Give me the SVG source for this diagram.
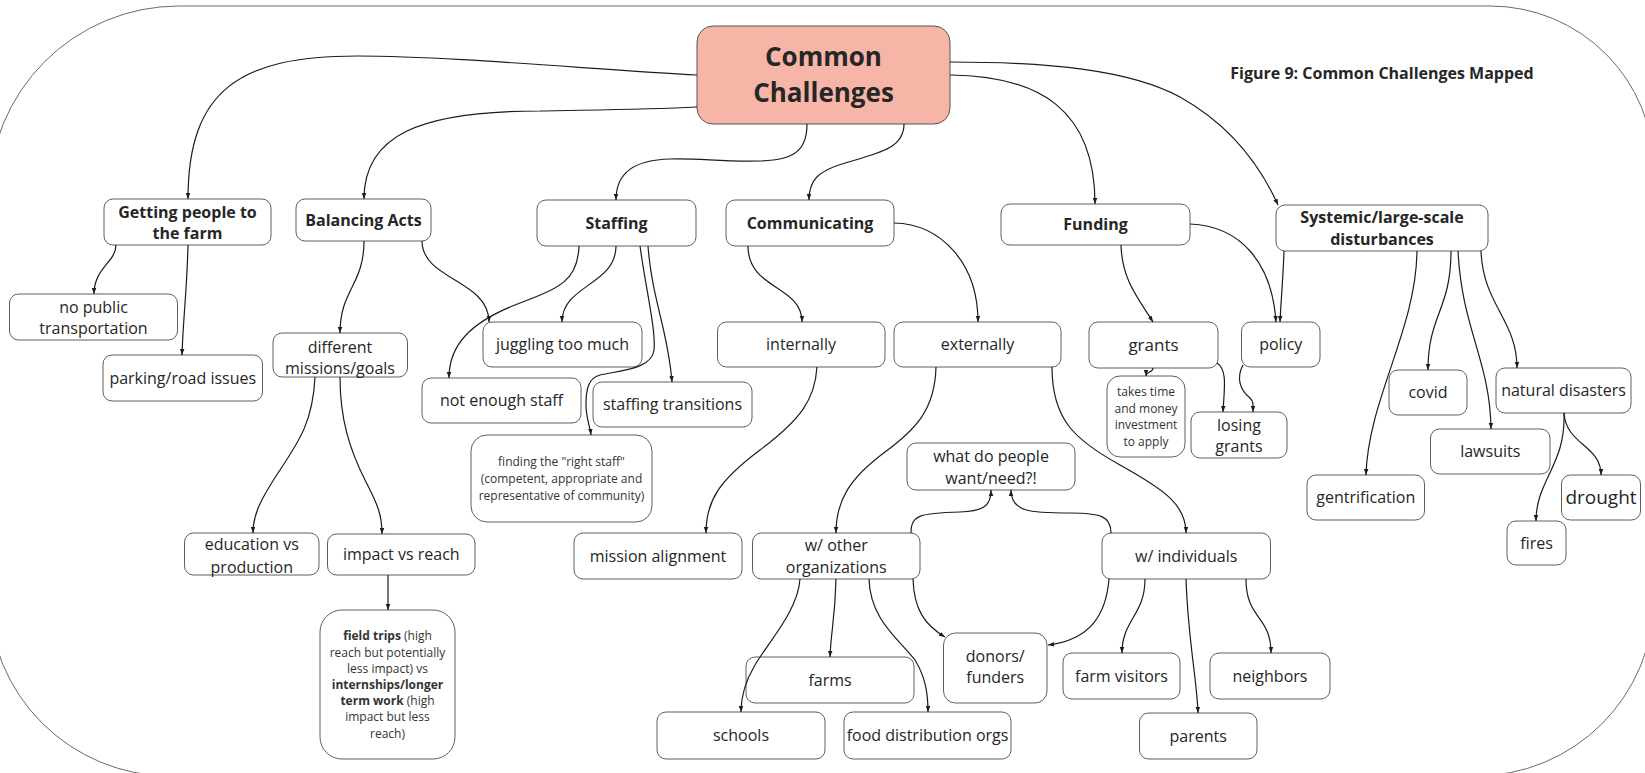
<svg xmlns="http://www.w3.org/2000/svg" width="1645" height="773" viewBox="0 0 1645 773">
<style>
.box{fill:#fff;stroke:#5e5e5e;stroke-width:1}
.t{font-family:"Open Sans","Liberation Sans",sans-serif;fill:#262626;text-anchor:middle}
.r{font-size:16px}
.b{font-size:16px;font-weight:700}
.s{font-size:12px;fill:#333}
.c{fill:none;stroke:#1c1c1c;stroke-width:1.2;marker-end:url(#ah)}
.frame{fill:none;stroke:#6a6a6a;stroke-width:1}
</style>
<defs>
<marker id="ah" viewBox="0 0 8 8" refX="8" refY="4" markerWidth="6" markerHeight="6" orient="auto" markerUnits="userSpaceOnUse"><path d="M0,1 L8,4 L0,7 z" fill="#1c1c1c"/></marker>
</defs>
<rect width="1645" height="773" fill="#fff"/>
<path class="frame" d="M179,6 L1490,6 A164,164 0 0 1 1654,170 L1654,598 A178,178 0 0 1 1476,776 L170,776 A181,181 0 0 1 -11,595 L-11,196 A190,190 0 0 1 179,6 Z"/>
<text class="t" x="1382" y="78.7" font-size="16" font-weight="700">Figure 9: Common Challenges Mapped</text>

<g id="nodes">
<g id="n-cc"><rect x="697" y="26" width="253" height="98" rx="16" fill="#f7b5a7" stroke="#555" stroke-width="1"/><text class="t" font-size="26" font-weight="700"><tspan x="823.5" y="66">Common</tspan><tspan x="823.5" y="101.5">Challenges</tspan></text></g>
<g id="n-getting"><rect class="box" x="104" y="199" width="167" height="46" rx="9"/><text class="t b"><tspan x="187.5" y="217.7">Getting people to</tspan><tspan x="187.5" y="238.7">the farm</tspan></text></g>
<g id="n-balancing"><rect class="box" x="296" y="199" width="135" height="42" rx="9"/><text class="t b" x="363.5" y="225.7">Balancing Acts</text></g>
<g id="n-staffing"><rect class="box" x="537" y="200" width="159" height="46" rx="9"/><text class="t b" x="616.5" y="228.7">Staffing</text></g>
<g id="n-communicating"><rect class="box" x="726" y="200" width="168" height="46" rx="9"/><text class="t b" x="810" y="228.7">Communicating</text></g>
<g id="n-funding"><rect class="box" x="1001" y="204" width="189" height="41" rx="9"/><text class="t b" x="1095.5" y="230">Funding</text></g>
<g id="n-systemic"><rect class="box" x="1276" y="205" width="212" height="46" rx="9"/><text class="t b"><tspan x="1382" y="222.7">Systemic/large-scale</tspan><tspan x="1382" y="244.7">disturbances</tspan></text></g>
<g id="n-nopublic"><rect class="box" x="9.5" y="294" width="168" height="46" rx="9"/><text class="t r"><tspan x="93.5" y="312.7">no public</tspan><tspan x="93.5" y="333.7">transportation</tspan></text></g>
<g id="n-parking"><rect class="box" x="103" y="355" width="159.5" height="46" rx="9"/><text class="t r" x="182.75" y="383.7">parking/road issues</text></g>
<g id="n-different"><rect class="box" x="273" y="333" width="134.5" height="44" rx="9"/><text class="t r"><tspan x="340" y="352.7">different</tspan><tspan x="340" y="373.7">missions/goals</tspan></text></g>
<g id="n-juggling"><rect class="box" x="483" y="322" width="159" height="45" rx="9"/><text class="t r" x="562.5" y="350.2">juggling too much</text></g>
<g id="n-notenough"><rect class="box" x="422" y="378" width="159" height="45" rx="9"/><text class="t r" x="501.5" y="406.2">not enough staff</text></g>
<g id="n-transitions"><rect class="box" x="593" y="382" width="159" height="45" rx="9"/><text class="t r" x="672.5" y="410.2">staffing transitions</text></g>
<g id="n-finding"><rect class="box" x="471" y="435" width="181" height="87" rx="16"/><text class="t s"><tspan x="561.5" y="466.3">finding the "right staff"</tspan><tspan x="561.5" y="483.3">(competent, appropriate and</tspan><tspan x="561.5" y="500.3">representative of community)</tspan></text></g>
<g id="n-internally"><rect class="box" x="717.5" y="322" width="167.5" height="45" rx="9"/><text class="t r" x="801" y="350.2">internally</text></g>
<g id="n-externally"><rect class="box" x="894" y="322" width="167" height="45" rx="9"/><text class="t r" x="977.5" y="350.2">externally</text></g>
<g id="n-grants"><rect class="box" x="1089" y="322" width="129" height="46" rx="9"/><text class="t" font-size="17" x="1153.5" y="351">grants</text></g>
<g id="n-policy"><rect class="box" x="1241.5" y="322" width="78.5" height="45" rx="9"/><text class="t r" x="1280.75" y="350.2">policy</text></g>
<g id="n-takestime"><rect class="box" x="1107" y="376" width="78" height="81" rx="13"/><text class="t s"><tspan x="1146" y="396">takes time</tspan><tspan x="1146" y="412.6">and money</tspan><tspan x="1146" y="429.3">investment</tspan><tspan x="1146" y="446">to apply</tspan></text></g>
<g id="n-losing"><rect class="box" x="1191" y="412" width="96" height="46" rx="9"/><text class="t r"><tspan x="1239" y="430.7">losing</tspan><tspan x="1239" y="452.4">grants</tspan></text></g>
<g id="n-covid"><rect class="box" x="1389" y="370" width="78" height="45" rx="9"/><text class="t r" x="1428" y="398.2">covid</text></g>
<g id="n-natural"><rect class="box" x="1496" y="368" width="135" height="45" rx="9"/><text class="t r" x="1563.5" y="396.2">natural disasters</text></g>
<g id="n-lawsuits"><rect class="box" x="1430.5" y="429" width="119.5" height="45" rx="9"/><text class="t r" x="1490.25" y="457.2">lawsuits</text></g>
<g id="n-gentrification"><rect class="box" x="1307" y="475" width="117.5" height="45" rx="9"/><text class="t r" x="1365.75" y="503.2">gentrification</text></g>
<g id="n-drought"><rect class="box" x="1561.5" y="475" width="79" height="45" rx="9"/><text class="t" font-size="19" x="1601" y="504.3">drought</text></g>
<g id="n-fires"><rect class="box" x="1507" y="521" width="59" height="44" rx="9"/><text class="t r" x="1536.5" y="548.7">fires</text></g>
<g id="n-education"><rect class="box" x="184.5" y="533" width="134.5" height="42" rx="9"/><text class="t r"><tspan x="251.75" y="549.7">education vs</tspan><tspan x="251.75" y="572.7">production</tspan></text></g>
<g id="n-impact"><rect class="box" x="327.5" y="534" width="147.5" height="41" rx="9"/><text class="t r" x="401.25" y="560">impact vs reach</text></g>
<g id="n-fieldtrips"><rect class="box" x="320" y="610" width="135" height="149" rx="22"/><text class="t s"><tspan x="387.5" y="640.3"><tspan font-weight="700">field trips</tspan> (high</tspan><tspan x="387.5" y="656.5">reach but potentially</tspan><tspan x="387.5" y="672.7">less impact) vs</tspan><tspan x="387.5" y="688.9" font-weight="700">internships/longer</tspan><tspan x="387.5" y="705.1"><tspan font-weight="700">term work</tspan> (high</tspan><tspan x="387.5" y="721.3">impact but less</tspan><tspan x="387.5" y="737.5">reach)</tspan></text></g>
<g id="n-mission"><rect class="box" x="574" y="533" width="168" height="46" rx="9"/><text class="t r" x="658" y="561.7">mission alignment</text></g>
<g id="n-wother"><rect class="box" x="752.5" y="533" width="167.5" height="46" rx="9"/><text class="t r"><tspan x="836.25" y="550.7">w/ other</tspan><tspan x="836.25" y="572.7">organizations</tspan></text></g>
<g id="n-whatdo"><rect class="box" x="907" y="443" width="168" height="47" rx="9"/><text class="t r"><tspan x="991" y="462.4">what do people</tspan><tspan x="991" y="484">want/need?!</tspan></text></g>
<g id="n-windividuals"><rect class="box" x="1102" y="533" width="168.5" height="46" rx="9"/><text class="t r" x="1186.25" y="561.7">w/ individuals</text></g>
<g id="n-farms"><rect class="box" x="746" y="657" width="168" height="46" rx="9"/><text class="t r" x="830" y="685.7">farms</text></g>
<g id="n-donors"><rect class="box" x="943.5" y="633" width="103.5" height="70" rx="12"/><text class="t r"><tspan x="995.25" y="661.7">donors/</tspan><tspan x="995.25" y="683.4">funders</tspan></text></g>
<g id="n-schools"><rect class="box" x="657" y="712" width="168" height="47" rx="9"/><text class="t r" x="741" y="741.2">schools</text></g>
<g id="n-food"><rect class="box" x="844" y="712" width="167" height="47" rx="9"/><text class="t r" x="927.5" y="741.2">food distribution orgs</text></g>
<g id="n-farmvisitors"><rect class="box" x="1063" y="653" width="117" height="46" rx="9"/><text class="t r" x="1121.5" y="681.7">farm visitors</text></g>
<g id="n-neighbors"><rect class="box" x="1210" y="653" width="120" height="46" rx="9"/><text class="t r" x="1270" y="681.7">neighbors</text></g>
<g id="n-parents"><rect class="box" x="1139.5" y="713" width="117.5" height="46" rx="9"/><text class="t r" x="1198.25" y="741.7">parents</text></g>
</g>

<g id="connectors">
<path class="c" d="M697,75 C600,70 450,56 357,56 C240,56 188,90 188,199"/>
<path class="c" d="M697,107 C640,110 580,110 540,111 C420,111 364,135 364,199"/>
<path class="c" d="M807,124 C807,150 795,160 760,161 C720,162 700,158 670,159 C635,160 616,172 616,200"/>
<path class="c" d="M904,124 C904,148 880,153 845,163 C818,171 809,180 809,200"/>
<path class="c" d="M950,62 C1050,62 1130,70 1180,97 C1230,125 1260,165 1278,205"/>
<path class="c" d="M950,75 C1040,76 1095,110 1095,204"/>
<path class="c" d="M116,245 C116,262 94,268 94,294"/>
<path class="c" d="M188,245 C187,290 183,320 182,355"/>
<path class="c" d="M364,241 C364,285 340,290 340,333"/>
<path class="c" d="M422,241 C422,280 489,280 489,322"/>
<path class="c" d="M579,246 C578,280 560,288 520,303 C470,322 449,345 449,378"/>
<path class="c" d="M616,246 C616,285 562,285 562,322"/>
<path class="c" d="M640,246 C646,290 656,330 654,350 C652,368 625,370 600,375 C588,378 586,390 586,405 C586,418 590,426 591,435"/>
<path class="c" d="M648,246 C652,300 668,330 672,382"/>
<path class="c" d="M748,246 C748,290 802,285 802,322"/>
<path class="c" d="M894,223 C940,224 978,262 978,322"/>
<path class="c" d="M817,367 C815,400 800,420 760,450 C720,480 706,500 706,533"/>
<path class="c" d="M936,367 C935,410 915,430 885,452 C850,478 836,500 836,533"/>
<path class="c" d="M1052,367 C1052,420 1075,440 1120,465 C1165,490 1186,505 1186,533"/>
<path class="c" d="M911,533 C911,515 920,513 960,512 C985,511 991,505 991,490"/>
<path class="c" d="M1111,533 C1111,516 1100,513 1070,513 C1030,513 1011,512 1011,490"/>
<path class="c" d="M800,579 C798,610 770,640 755,665 C743,685 741,700 741,712"/>
<path class="c" d="M836,579 C835,620 831,630 830,657"/>
<path class="c" d="M869,579 C870,620 900,640 915,660 C926,678 928,695 928,712"/>
<path class="c" d="M913,579 C914,610 925,625 945,637"/>
<path class="c" d="M1109,579 C1106,615 1090,640 1048,645"/>
<path class="c" d="M1145,579 C1145,615 1122,620 1122,653"/>
<path class="c" d="M1186,579 C1188,640 1197,680 1198,713"/>
<path class="c" d="M1246,579 C1246,620 1271,615 1271,653"/>
<path class="c" d="M1121,245 C1122,280 1138,298 1153,322"/>
<path class="c" d="M1190,224 C1240,226 1272,262 1276,322"/>
<path class="c" d="M1284,251 C1283,280 1281,300 1280,322"/>
<path class="c" d="M1417,251 C1416,330 1368,400 1366,475"/>
<path class="c" d="M1451,251 C1451,310 1428,315 1428,370"/>
<path class="c" d="M1458,251 C1462,330 1490,360 1491,429"/>
<path class="c" d="M1481,251 C1483,305 1517,320 1517,368"/>
<path class="c" d="M1564,413 C1566,465 1536,480 1536,521"/>
<path class="c" d="M1564,413 C1566,445 1601,445 1601,475"/>
<path class="c" d="M1153,368 C1153,373 1146,371 1146,376"/>
<path class="c" d="M1217,363 C1228,370 1224,390 1223,412"/>
<path class="c" d="M1243,365 C1236,378 1240,390 1250,398 C1254,402 1253,406 1253,412"/>
<path class="c" d="M388,575 L388,610"/>
<path class="c" d="M315,377 C313,420 300,440 280,470 C260,500 253,515 253,533"/>
<path class="c" d="M340,377 C340,420 350,450 365,480 C378,505 382,515 382,534"/>
</g>
</svg>
